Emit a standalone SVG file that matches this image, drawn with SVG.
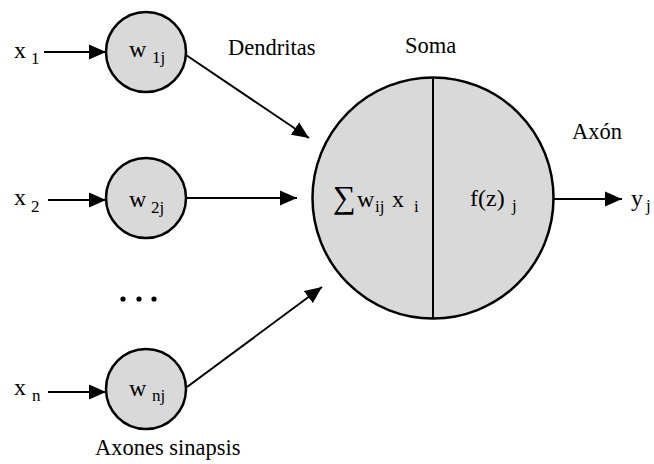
<svg xmlns="http://www.w3.org/2000/svg" width="654" height="464" viewBox="0 0 654 464">
  <style>
    text { font-family: "Liberation Serif", "Tinos", "Times New Roman", "DejaVu Serif", serif; fill: #000; }
    .lbl { font-size: 24px; }
    .cap { font-size: 22.5px; }
    .sub { font-size: 17px; }
    .node { fill: #d9d9d9; stroke: #000; stroke-width: 2.5; }
    .edge { fill: none; stroke: #000; stroke-width: 2; marker-end: url(#arrow); }
  </style>
  <defs>
    <marker id="arrow" markerUnits="userSpaceOnUse" markerWidth="18" markerHeight="16" refX="17" refY="8" orient="auto">
      <path d="M0,0.5 L17,8 L0,15.5 z" fill="#000"/>
    </marker>
  </defs>

  <rect width="654" height="464" fill="#fff"/>

  <!-- connectors -->
  <g id="connectors">
    <line class="edge" x1="44" y1="52" x2="106" y2="52"/>
    <line class="edge" x1="48" y1="200" x2="106" y2="200"/>
    <line class="edge" x1="48" y1="392" x2="106" y2="392"/>
    <line class="edge" x1="186" y1="55" x2="309" y2="138"/>
    <line class="edge" x1="186" y1="198" x2="297" y2="198"/>
    <line class="edge" x1="187" y1="387" x2="322" y2="287"/>
    <line class="edge" x1="553" y1="199" x2="622" y2="199"/>
  </g>

  <!-- inputs -->
  <g id="input-1">
    <text class="lbl" x="14" y="58">x</text>
    <text class="sub" x="31" y="64">1</text>
  </g>
  <g id="input-2">
    <text class="lbl" x="14" y="205">x</text>
    <text class="sub" x="31" y="212">2</text>
  </g>
  <g id="input-n">
    <text class="lbl" x="14" y="395">x</text>
    <text class="sub" x="32" y="401">n</text>
  </g>

  <!-- synaptic weights -->
  <g id="weight-1">
    <circle class="node" cx="146" cy="52" r="40"/>
    <text class="lbl" x="129" y="57">w</text>
    <text class="sub" x="152" y="63">1j</text>
  </g>
  <g id="weight-2">
    <circle class="node" cx="146" cy="198" r="40"/>
    <text class="lbl" x="129" y="207">w</text>
    <text class="sub" x="151" y="213">2j</text>
  </g>
  <g id="weight-n">
    <circle class="node" cx="146" cy="389" r="40"/>
    <text class="lbl" x="129" y="396">w</text>
    <text class="sub" x="152" y="401">nj</text>
  </g>

  <!-- ellipsis -->
  <g id="ellipsis" fill="#000">
    <circle cx="123" cy="299" r="2.6"/>
    <circle cx="139" cy="299" r="2.6"/>
    <circle cx="154" cy="299" r="2.6"/>
  </g>

  <!-- soma -->
  <g id="soma">
    <circle class="node" cx="433" cy="198" r="120.5"/>
    <line x1="433" y1="77.5" x2="433" y2="318.5" stroke="#000" stroke-width="2"/>
    <text x="333" y="208" font-size="32" font-family="DejaVu Serif, Liberation Serif, serif">∑</text>
    <text class="lbl" x="357" y="207">w</text>
    <text class="sub" x="375" y="212">ij</text>
    <text class="lbl" x="392" y="207">x</text>
    <text class="sub" x="414" y="212">i</text>
    <text class="lbl" x="470" y="206">f(z)</text>
    <text class="sub" x="512" y="211">j</text>
  </g>

  <!-- output -->
  <g id="output">
    <text class="lbl" x="631" y="206">y</text>
    <text class="sub" x="646" y="211">j</text>
  </g>

  <!-- labels -->
  <g id="labels">
    <text class="cap" x="228" y="55">Dendritas</text>
    <text class="cap" x="405" y="53">Soma</text>
    <text class="cap" x="572" y="139">Axón</text>
    <text class="cap" x="95" y="455">Axones sinapsis</text>
  </g>
</svg>
